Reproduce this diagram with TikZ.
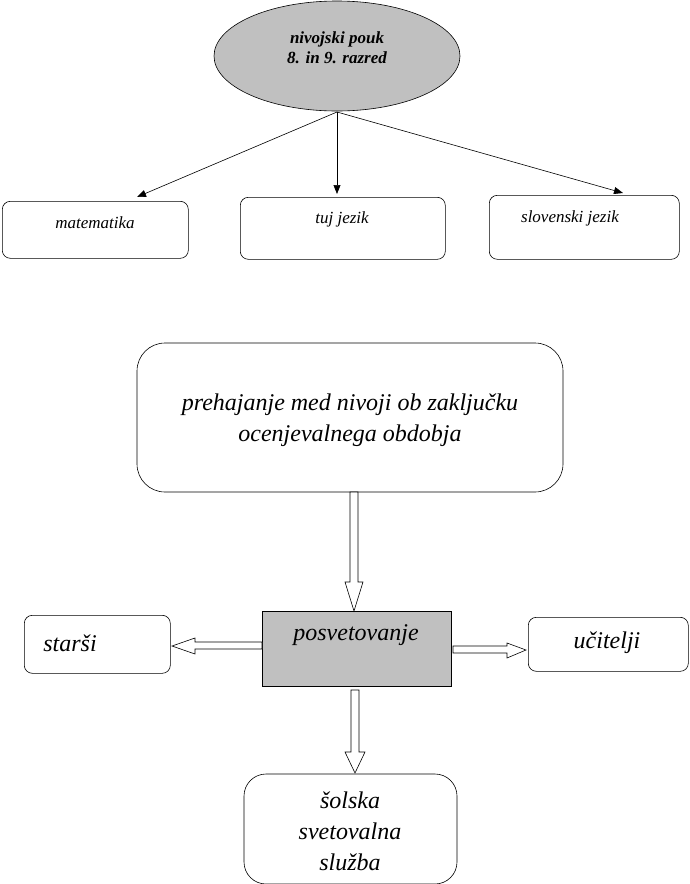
\documentclass[tikz,border=0pt]{standalone}
\usepackage{fontspec}
\setmainfont{Liberation Serif}
\usetikzlibrary{shapes.geometric,arrows.meta,calc}
\begin{document}
\begin{tikzpicture}[x=1pt,y=-1pt,
  rbox/.style={draw,rounded corners=8pt,line width=0.6pt,anchor=north west,inner sep=0pt},
  btxt/.style={font=\itshape\fontsize{#1}{#1}\selectfont,align=center},
  conn/.style={-{Triangle[length=9pt,width=7pt]},line width=0.6pt},
  blk/.style={draw,fill=white,line width=0.6pt}]
\useasboundingbox (0,0) rectangle (689,884);
\node[draw,ellipse,fill={rgb,255:red,192;green,192;blue,192},minimum width=246pt,minimum height=110pt,line width=0.6pt] (top) at (337,56) {};
\node[btxt=17,font=\bfseries\itshape\fontsize{17}{20}\selectfont] (toptxt) at (337,48) {nivojski pouk\\8. in 9. razred};
\node[rbox,minimum width=186pt,minimum height=57pt] (mat) at (2,201) {};
\node[btxt=17] (matt) at (95,223) {matematika};
\node[rbox,minimum width=205pt,minimum height=62pt] (tuj) at (240,197) {};
\node[btxt=17] (tujt) at (342,219) {tuj jezik};
\node[rbox,minimum width=190pt,minimum height=64pt] (slo) at (489,195) {};
\node[btxt=17] (slot) at (570,218) {slovenski jezik};
\coordinate (tb) at (337,112);
\draw[conn] (tb) -- (137,197);
\draw[conn] (tb) -- (337,194);
\draw[conn] (tb) -- (623,193);
\node[draw,rounded corners=28pt,line width=0.6pt,minimum width=426pt,minimum height=149pt] (big) at (350,417.5) {};
\node[btxt=24,font=\itshape\fontsize{24}{31}\selectfont] (bigt) at (350,420) {prehajanje med nivoji ob zaključku\\ocenjevalnega obdobja};
\node[draw,fill={rgb,255:red,192;green,192;blue,192},line width=0.6pt,minimum width=189pt,minimum height=75pt] (pos) at (356.5,648.5) {};
\node[btxt=24] (post) at (356,635) {posvetovanje};
\node[rbox,minimum width=146pt,minimum height=58pt] (sta) at (24,615) {};
\node[btxt=24] (stat) at (70,643) {starši};
\node[rbox,minimum width=160pt,minimum height=54pt] (uci) at (528,617) {};
\node[btxt=24] (ucit) at (607,643) {učitelji};
\node[draw,rounded corners=22pt,line width=0.6pt,minimum width=213pt,minimum height=110pt] (sol) at (350.5,829) {};
\node[btxt=24,font=\itshape\fontsize{24}{31}\selectfont] (solt) at (350,831) {šolska\\svetovalna\\služba};
% block arrows
\draw[blk] (350,492) -- (358,492) -- (358,582) -- (363,582) -- (354,611) -- (345,582) -- (350,582) -- cycle;
\draw[blk] (351,690) -- (359,690) -- (359,752) -- (365,752) -- (355,773) -- (345,752) -- (351,752) -- cycle;
\draw[blk] (262,642) -- (262,649) -- (195,649) -- (195,654) -- (172,646) -- (195,638) -- (195,642) -- cycle;
\draw[blk] (453,646) -- (453,653) -- (507,653) -- (507,658) -- (526,650) -- (507,643) -- (507,646) -- cycle;
\end{tikzpicture}
\end{document}
